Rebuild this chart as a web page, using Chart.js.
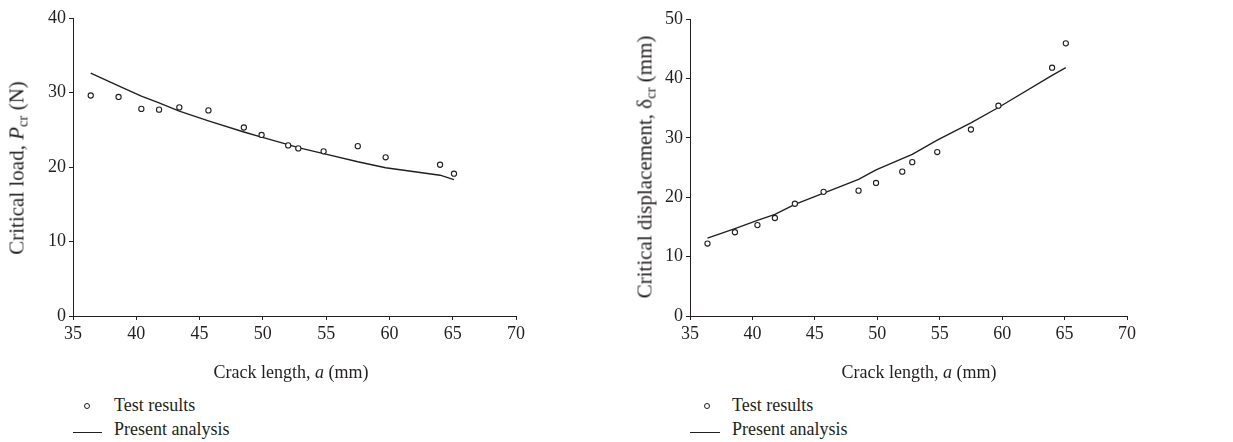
<!DOCTYPE html>
<html>
<head>
<meta charset="utf-8">
<script src="https://cdn.jsdelivr.net/npm/chart.js@4"></script>
<style>
  html, body { margin: 0; padding: 0; background: #fff; }
  body { width: 1233px; height: 442px; position: relative; overflow: hidden;
         font-family: "Liberation Serif", "DejaVu Serif", serif; color: #231f20; }
  .box { position: absolute; top: 0; }
  .txt { position: absolute; white-space: nowrap; font-size: 18px; line-height: 1; }
  .ytitle { transform: translate(-50%, -50%) rotate(-90deg); font-size: 21px; }
  .xtitle { transform: translate(-50%, -50%); }
  sub { font-size: 0.7em; vertical-align: -0.25em; line-height: 0; }
  .dot { position: absolute; width: 4px; height: 4px; border: 1.2px solid #231f20;
         border-radius: 50%; transform: translate(-50%, -50%); }
  .dash { position: absolute; height: 0; border-top: 1.3px solid #231f20; }
</style>
</head>
<body>
<div class="box" style="left:0;width:616px;height:390px"><canvas id="loadChart" width="616" height="390"></canvas></div>
<div class="box" style="left:616px;width:617px;height:390px"><canvas id="dispChart" width="617" height="390"></canvas></div>

<!-- заголовки осей -->
<div class="txt ytitle" style="left:17px;top:168px">Critical load, <i>P</i><sub>cr</sub> (N)</div>
<div class="txt xtitle" style="left:291px;top:372px">Crack length, <i>a</i> (mm)</div>
<div class="txt ytitle" style="left:645px;top:167px">Critical displacement, δ<sub>cr</sub> (mm)</div>
<div class="txt xtitle" style="left:919px;top:372px">Crack length, <i>a</i> (mm)</div>

<!-- легенды -->
<div class="dot" style="left:87px;top:406px"></div>
<div class="txt" style="left:114px;top:396px">Test results</div>
<div class="dash" style="left:73px;top:432px;width:29px"></div>
<div class="txt" style="left:114px;top:420px">Present analysis</div>

<div class="dot" style="left:707px;top:406px"></div>
<div class="txt" style="left:732px;top:396px">Test results</div>
<div class="dash" style="left:690px;top:432px;width:30px"></div>
<div class="txt" style="left:732px;top:420px">Present analysis</div>

<script>
// Данные
const crackLength = [36.4, 38.6, 40.4, 41.8, 43.4, 45.7, 48.5, 49.9, 52.0, 52.8, 54.8, 57.5, 59.7, 64.0, 65.1];
const loadTest = [29.6, 29.4, 27.8, 27.7, 28.0, 27.6, 25.3, 24.3, 22.9, 22.5, 22.1, 22.8, 21.3, 20.3, 19.1];
const loadAnalysis = [32.6, 30.9, 29.5, 28.6, 27.5, 26.2, 24.7, 24.0, 23.0, 22.6, 21.8, 20.7, 19.9, 18.9, 18.3];
const dispTest = [12.2, 14.1, 15.3, 16.5, 18.9, 20.9, 21.1, 22.4, 24.3, 25.9, 27.6, 31.4, 35.4, 41.8, 45.9];
const dispAnalysis = [13.1, 14.7, 16.1, 17.1, 18.8, 20.7, 23.0, 24.6, 26.5, 27.2, 29.6, 32.5, 35.1, 40.5, 41.8];

const xTicks = { min: 35, max: 70, step: 5 };
const loadTicks = { min: 0, max: 40, step: 10 };
const dispTicks = { min: 0, max: 50, step: 10 };

const ink = "#231f20";
const tickFont = { family: "Liberation Serif", size: 18 };

function points(ys) {
    return crackLength.map((x, i) => ({ x: x, y: ys[i] }));
}

function makeChart(id, test, analysis, yt, axisWidth, padTop, padRight) {
    const axisCommon = {
        border: { color: ink, width: 1 },
        grid: { display: true, drawOnChartArea: false, drawTicks: true, tickLength: 4, color: ink },
        ticks: { color: ink, font: tickFont, padding: 3 },
    };
    new Chart(document.getElementById(id).getContext("2d"), {
        type: "scatter",
        data: {
            datasets: [
                {
                    label: "Test results",
                    data: points(test),
                    pointStyle: "circle",
                    pointRadius: 2.6,
                    borderWidth: 1.1,
                    borderColor: ink,
                    backgroundColor: "#fff",
                },
                {
                    label: "Present analysis",
                    type: "line",
                    data: points(analysis),
                    borderColor: ink,
                    borderWidth: 1.4,
                    pointRadius: 0,
                    tension: 0,
                    fill: false,
                },
            ],
        },
        options: {
            responsive: false,
            animation: false,
            layout: { padding: { top: padTop, right: padRight, left: 0, bottom: 0 } },
            plugins: { legend: { display: false }, tooltip: { enabled: false } },
            scales: {
                x: {
                    ...axisCommon,
                    type: "linear",
                    min: xTicks.min,
                    max: xTicks.max,
                    ticks: { ...axisCommon.ticks, stepSize: xTicks.step, maxRotation: 0 },
                    afterFit: (scale) => { scale.height = 74; },
                },
                y: {
                    ...axisCommon,
                    min: yt.min,
                    max: yt.max,
                    ticks: { ...axisCommon.ticks, stepSize: yt.step },
                    afterFit: (scale) => { scale.width = axisWidth; },
                },
            },
        },
    });
}

makeChart("loadChart", loadTest, loadAnalysis, loadTicks, 73, 18, 100);
makeChart("dispChart", dispTest, dispAnalysis, dispTicks, 74, 19, 106);
</script>
</body>
</html>
